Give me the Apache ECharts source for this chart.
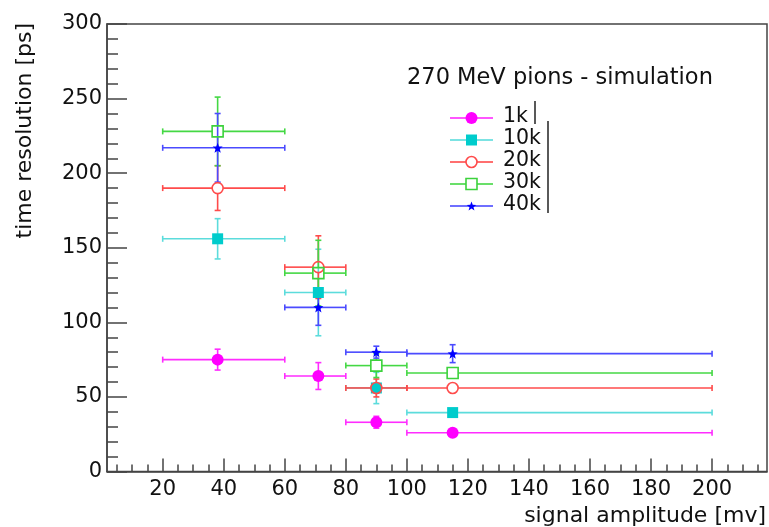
<!DOCTYPE html>
<html>
<head>
<meta charset="utf-8">
<script src="https://cdn.jsdelivr.net/npm/echarts@6/dist/echarts.min.js"></script>
<style>
  html, body { margin: 0; padding: 0; background: #fff; }
  #main { width: 769px; height: 527px; }
</style>
</head>
<body>
<div id="main"></div>
<script>
// amplitude bins [mV]
var binCenter = [38, 71, 90, 115];
var binLow = [20, 60, 80, 100];
var binHigh = [60, 80, 100, 200];

// time resolution [ps] and its error, per number of photons
var names = ['1k', '10k', '20k', '30k', '40k'];
var res1k = [75, 64, 33, 26];
var err1k = [7, 9, 4, 1];
var res10k = [156, 120, 56, 39.5];
var err10k = [13.5, 29, 10.5, 1];
var res20k = [190, 137, 56, 56];
var err20k = [15, 21, 6, 1];
var res30k = [228, 133, 71, 66];
var err30k = [23, 22, 8, 1];
var res40k = [217, 110, 80, 79];
var err40k = [23, 12, 4, 6];

var xTickLabels = [20, 40, 60, 80, 100, 120, 140, 160, 180, 200];
var xMinorTicks = [5, 10, 15, 25, 30, 35, 45, 50, 55, 65, 70, 75, 85, 90, 95, 105, 110, 115,
  125, 130, 135, 145, 150, 155, 165, 170, 175, 185, 190, 195, 205, 210, 215];

var FONT = 'DejaVu Sans';
var AXIS = '#444';

var starPath = 'path://M0,-10 L2.6,-3.4 L9.5,-3.1 L4.1,1.3 L5.9,8.1 L0,4.2 L-5.9,8.1 L-4.1,1.3 L-9.5,-3.1 L-2.6,-3.4 Z';

// 样式: marker + 误差线
var styles = [
  { line: '#ff2cff', color: '#ff00ff', symbol: 'circle', size: 12, fill: true, gap: 0 },
  { line: '#5cdcdc', color: '#00cccc', symbol: 'rect', size: 11, fill: true, gap: 0 },
  { line: '#ff4b4b', color: '#ff4b4b', symbol: 'circle', size: 11, fill: false, gap: 5.5 },
  { line: '#44d844', color: '#3cd23c', symbol: 'rect', size: 11, fill: false, gap: 5.5 },
  { line: '#4b4bff', color: '#0000ff', symbol: starPath, size: 10, fill: true, gap: 0 }
];
var resAll = [res1k, res10k, res20k, res30k, res40k];
var errAll = [err1k, err10k, err20k, err30k, err40k];

function errorBars(st) {
  return function (params, api) {
    var x = api.value(0), y = api.value(1);
    var c = api.coord([x, y]);
    var lo = api.coord([api.value(2), y])[0];
    var hi = api.coord([api.value(3), y])[0];
    var top = api.coord([x, y + api.value(4)])[1];
    var bot = api.coord([x, y - api.value(4)])[1];
    var r = st.gap, cap = 3;
    var ls = { stroke: st.line, lineWidth: 1.6 };
    var kids = [];
    function seg(x1, y1, x2, y2) {
      kids.push({ type: 'line', shape: { x1: x1, y1: y1, x2: x2, y2: y2 }, style: ls });
    }
    seg(lo, c[1], c[0] - r, c[1]);
    seg(c[0] + r, c[1], hi, c[1]);
    seg(lo, c[1] - cap, lo, c[1] + cap);
    seg(hi, c[1] - cap, hi, c[1] + cap);
    if (c[1] - top > Math.max(r, 2)) {
      seg(c[0], c[1] - r, c[0], top);
      seg(c[0] - cap, top, c[0] + cap, top);
      seg(c[0], c[1] + r, c[0], bot);
      seg(c[0] - cap, bot, c[0] + cap, bot);
    }
    return { type: 'group', children: kids };
  };
}

var series = [];
for (var i = 0; i < names.length; i++) {
  var st = styles[i];
  var rows = [], pts = [];
  for (var k = 0; k < binCenter.length; k++) {
    rows.push([binCenter[k], resAll[i][k], binLow[k], binHigh[k], errAll[i][k]]);
    pts.push([binCenter[k], resAll[i][k]]);
  }
  series.push({
    type: 'custom',
    name: names[i] + ' err',
    renderItem: errorBars(st),
    encode: { x: 0, y: 1 },
    data: rows,
    silent: true
  });
  series.push({
    type: 'scatter',
    name: names[i],
    data: pts,
    symbol: st.symbol,
    symbolSize: st.size,
    itemStyle: st.fill
      ? { color: st.color, opacity: 1 }
      : { color: 'rgba(0,0,0,0)', borderColor: st.color, borderWidth: 1.6, opacity: 1 }
  });
}

// 图例 (ROOT 风格)
var graphic = [
  {
    type: 'text', left: 407, top: 67,
    style: { text: '270 MeV pions - simulation', fontSize: 22.5, fontFamily: FONT, fill: '#111' }
  },
  {
    type: 'text', x: 25, y: 23, rotation: Math.PI / 2,
    style: { text: 'time resolution [ps]', fontSize: 22, fontFamily: FONT, fill: '#111',
      align: 'right', verticalAlign: 'middle' }
  },
  { type: 'line', shape: { x1: 535, y1: 101, x2: 535, y2: 124 }, style: { stroke: '#222', lineWidth: 1.5 } },
  { type: 'line', shape: { x1: 548, y1: 121, x2: 548, y2: 213 }, style: { stroke: '#222', lineWidth: 1.5 } }
];
function starPoints(cx, cy, R) {
  var p = [];
  for (var j = 0; j < 10; j++) {
    var a = -Math.PI / 2 + j * Math.PI / 5;
    var rr = j % 2 ? R * 0.42 : R;
    p.push([cx + rr * Math.cos(a), cy + rr * Math.sin(a)]);
  }
  return p;
}
for (var i = 0; i < names.length; i++) {
  var st = styles[i];
  var ly = 118 + i * 22;
  var mx = 471.5;
  graphic.push({ type: 'line', shape: { x1: 450, y1: ly, x2: mx - st.gap, y2: ly }, style: { stroke: st.line, lineWidth: 1.6 } });
  graphic.push({ type: 'line', shape: { x1: mx + st.gap, y1: ly, x2: 493, y2: ly }, style: { stroke: st.line, lineWidth: 1.6 } });
  var mStyle = st.fill ? { fill: st.color } : { fill: 'rgba(0,0,0,0)', stroke: st.color, lineWidth: 1.6 };
  if (st.symbol === 'circle') {
    graphic.push({ type: 'circle', shape: { cx: mx, cy: ly, r: st.size / 2 }, style: mStyle });
  } else if (st.symbol === 'rect') {
    graphic.push({ type: 'rect', shape: { x: mx - st.size / 2, y: ly - st.size / 2, width: st.size, height: st.size }, style: mStyle });
  } else {
    graphic.push({ type: 'polygon', shape: { points: starPoints(mx, ly + 0.5, 5) }, style: mStyle });
  }
  graphic.push({
    type: 'text', left: 503, top: ly - 12,
    style: { text: names[i], fontSize: 20.5, fontFamily: FONT, fill: '#111' }
  });
}

var chart = echarts.init(document.getElementById('main'), null, { renderer: 'canvas' });
chart.setOption({
  animation: false,
  backgroundColor: '#fff',
  grid: {
    left: 107, right: 2, top: 24, bottom: 55.5,
    outerBoundsMode: 'none',
    show: true, borderColor: AXIS, borderWidth: 1.5
  },
  xAxis: [
    {
      type: 'value', min: 1.75, max: 218,
      name: 'signal amplitude [mv]', nameLocation: 'end', nameGap: -1,
      nameTextStyle: { fontSize: 22, fontFamily: FONT, color: '#111', align: 'right', verticalAlign: 'top', padding: [34, 0, 0, 0] },
      axisLine: { show: true, lineStyle: { color: AXIS, width: 1.5 } },
      axisTick: { show: true, inside: true, length: 13, customValues: xTickLabels, lineStyle: { color: AXIS, width: 1.5 } },
      axisLabel: { customValues: xTickLabels, margin: 8, fontSize: 21, fontFamily: FONT, color: '#111' },
      splitLine: { show: false }
    },
    {
      type: 'value', min: 1.75, max: 218, position: 'bottom',
      axisLine: { show: false },
      axisTick: { show: true, inside: true, length: 7, customValues: xMinorTicks, lineStyle: { color: AXIS, width: 1.5 } },
      axisLabel: { show: false },
      splitLine: { show: false }
    }
  ],
  yAxis: {
    type: 'value', min: 0, max: 300, interval: 50,
    axisLine: { show: true, lineStyle: { color: AXIS, width: 1.5 } },
    axisTick: { show: true, inside: true, length: 20, lineStyle: { color: AXIS, width: 1.5 } },
    minorTick: { show: true, splitNumber: 5, length: 11, lineStyle: { color: AXIS, width: 1.5 } },
    axisLabel: { margin: 5, fontSize: 21, fontFamily: FONT, color: '#111' },
    splitLine: { show: false }
  },
  graphic: graphic,
  series: series
});
</script>
</body>
</html>
